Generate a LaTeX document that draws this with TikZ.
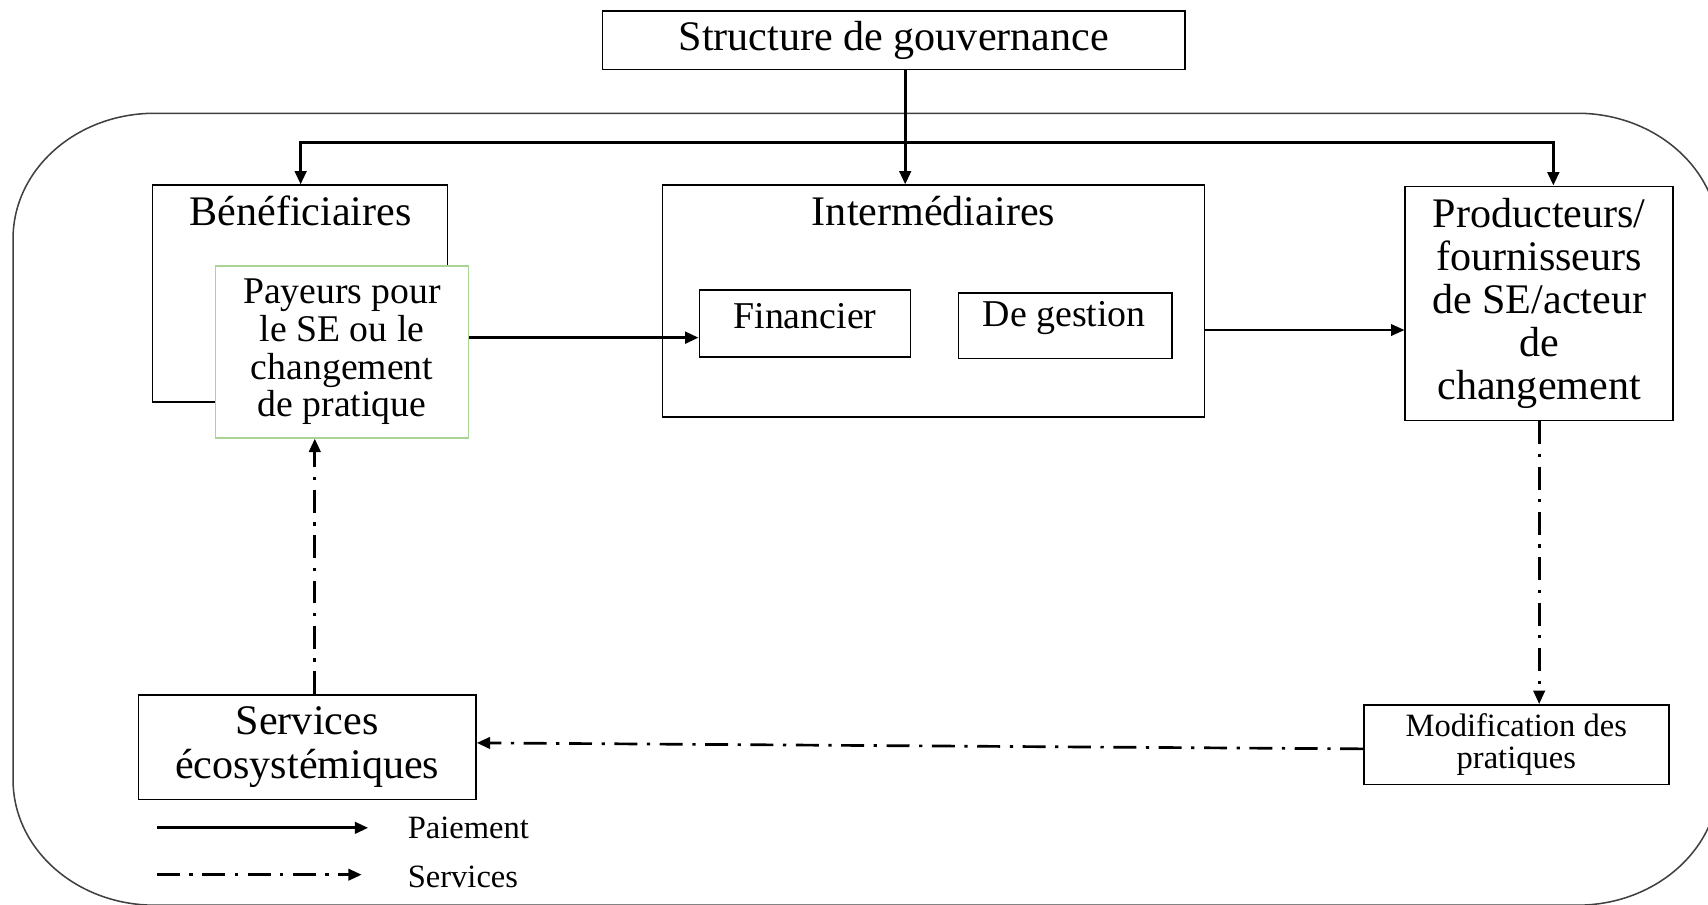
\documentclass[tikz,border=0pt]{standalone}
\usepackage{fontspec}
\setmainfont{Liberation Serif}
\usetikzlibrary{arrows.meta,calc}
\definecolor{payeurgreen}{RGB}{170,212,150}
\begin{document}
\begin{tikzpicture}[x=0.02cm,y=0.02cm,
    box/.style={draw,line width=0.8pt,inner sep=0pt,align=center,fill=white},
    big/.style={font=\fontsize{22}{22.4}\selectfont},
    mid/.style={font=\fontsize{19.8}{19.8}\selectfont},
    small/.style={font=\fontsize{17}{17}\selectfont},
    pay/.style={line width=1.6pt,-{Triangle[length=7pt,width=6pt]}},
    thinpay/.style={line width=1.1pt,-{Triangle[length=7pt,width=6pt]}},
    serv/.style={line width=1.4pt,dash pattern=on 12pt off 5pt on 1.7pt off 5pt,-{Triangle[length=7pt,width=6pt]}}]
    \useasboundingbox (0,0) rectangle (1568,830);
    \clip (0,0) rectangle (1568,830);
    \draw[line width=0.8pt,black!75] (142,726) -- (1448,726) arc[start angle=90,end angle=0,x radius=130,y radius=115] -- (1578,114) arc[start angle=0,end angle=-90,x radius=130,y radius=115] -- (142,-1) arc[start angle=270,end angle=180,x radius=130,y radius=115] -- (12,611) arc[start angle=180,end angle=90,x radius=130,y radius=115] -- cycle;
    \node[box,big,minimum width=10.7cm,minimum height=1.08cm] (gouv) at (820.5,793) {Structure de gouvernance};
    \node[box,minimum width=5.42cm,minimum height=3.98cm] (benef) at (275.5,560.5) {};
    \node[big] (benefl) at (276,636) {Bénéficiaires};
    \node[box,draw=payeurgreen,font=\fontsize{19.7}{19.8}\selectfont,minimum width=4.64cm,minimum height=3.16cm] (payeur) at (314,507) {Payeurs pour\\le SE ou le\\changement\\de pratique};
    \node[box,minimum width=9.96cm,minimum height=4.26cm] (inter) at (857,553.5) {};
    \node[big] (interl) at (857,636) {Intermédiaires};
    \node[box,minimum width=3.88cm,minimum height=1.24cm] (fin) at (739,533) {};
    \node[mid] (finl) at (739,540) {Financier};
    \node[box,minimum width=3.92cm,minimum height=1.2cm] (gest) at (978,531) {};
    \node[mid] (gestl) at (977,538) {De gestion};
    \node[box,big,minimum width=4.92cm,minimum height=4.3cm] (prod) at (1413,551.5) {Producteurs/\\fournisseurs\\de SE/acteur\\de\\changement};
    \node[box,small,minimum width=5.6cm,minimum height=1.46cm] (modif) at (1392,146.5) {Modification des\\pratiques};
    \node[box,font=\fontsize{22}{22.8}\selectfont,minimum width=6.2cm,minimum height=1.92cm] (servi) at (282,144) {Services\\écosystémiques};
    \coordinate (fork) at (831,699);
    \coordinate (forkl) at (276,699);
    \coordinate (forkr) at (1426,699);
    \coordinate (lvlpay) at (0,520);
    \coordinate (lvlint) at (0,527);
    \coordinate (lvlsv) at (289,0);
    \draw[pay] (gouv.south -| fork) -- (inter.north -| fork);
    \draw[pay] (forkr) -- (forkl) -- (benef.north -| forkl);
    \draw[pay] (forkl) -- (forkr) -- (prod.north -| forkr);
    \draw[pay] (payeur.east |- lvlpay) -- (fin.west |- lvlpay);
    \draw[thinpay] (inter.east |- lvlint) -- (prod.west |- lvlint);
    \draw[serv] (prod.south) -- (prod.south |- modif.north);
    \draw[serv] ($(modif.west)+(0,-4)$) -- ($(servi.east)+(0,4)$);
    \draw[serv] (servi.north -| lvlsv) -- (payeur.south -| lvlsv);
    \coordinate (legpa) at (144,70);
    \coordinate (legpb) at (338,70);
    \coordinate (legsa) at (144,27);
    \coordinate (legsb) at (332,27);
    \draw[pay] (legpa) -- (legpb);
    \draw[serv] (legsa) -- (legsb);
    \node[small] (legpt) at (430,70) {Paiement};
    \node[small] (legst) at (425,25) {Services};
\end{tikzpicture}
\end{document}
